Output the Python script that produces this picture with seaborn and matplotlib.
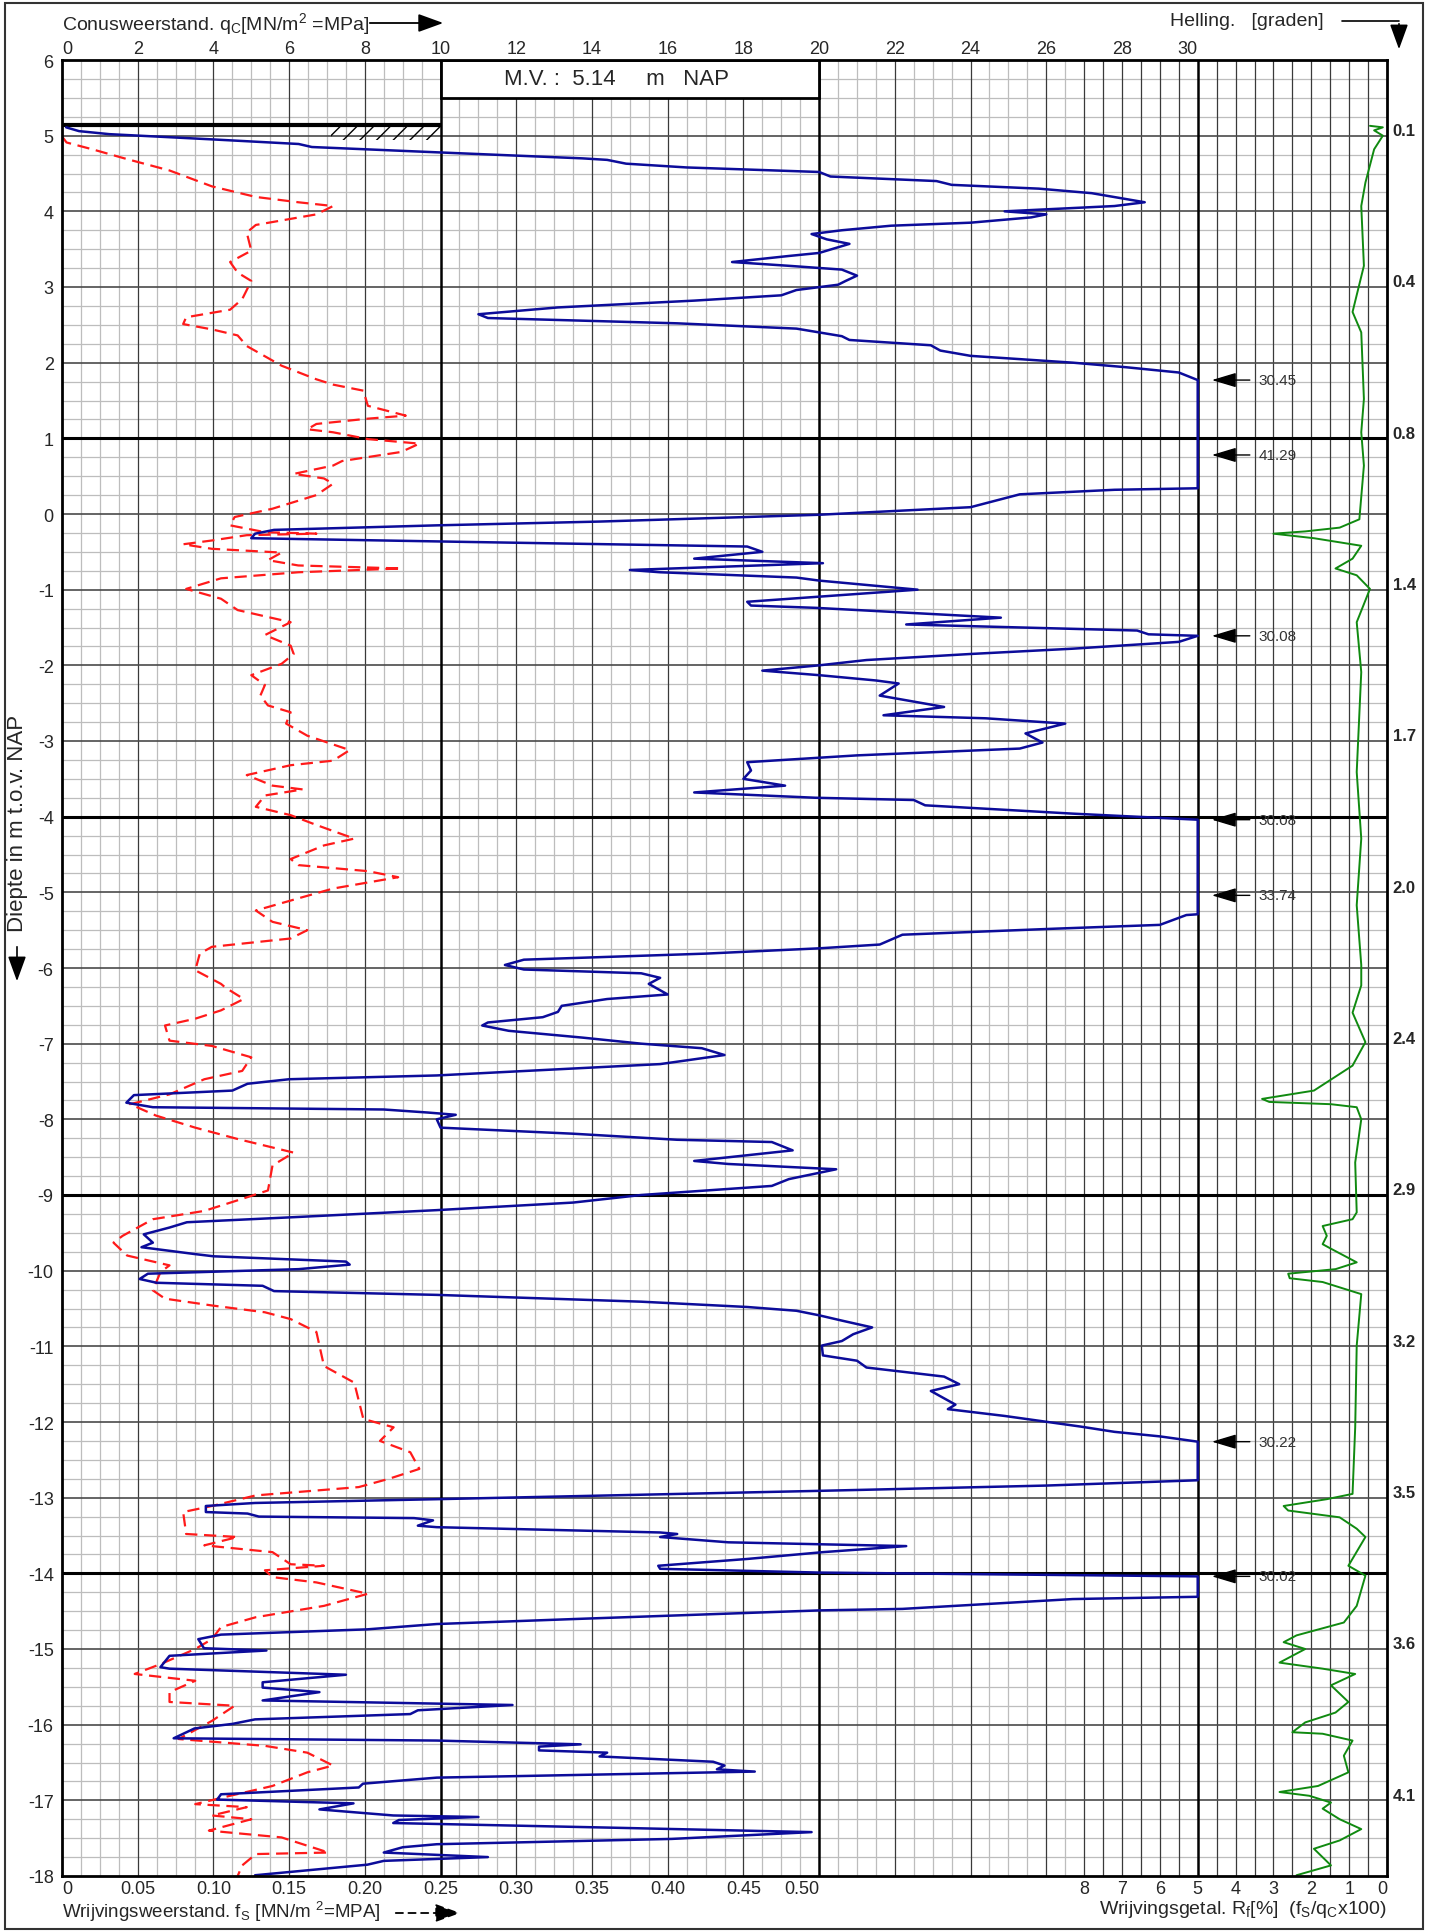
import numpy as np
import pandas as pd
import matplotlib
matplotlib.use("Agg")
import matplotlib.pyplot as plt
import seaborn as sns
from matplotlib.patches import Rectangle, FancyArrowPatch
from matplotlib.lines import Line2D

# style
sns.set_theme(style="white")
plt.rcParams["font.family"] = ["Liberation Sans", "DejaVu Sans"]
plt.rcParams["mathtext.fontset"] = "custom"
plt.rcParams["mathtext.rm"] = "Liberation Sans"
plt.rcParams["mathtext.it"] = "Liberation Sans:italic"
plt.rcParams["axes.unicode_minus"] = False

# cone resistance qc [MPa] against depth [m NAP]
qc_depth = [5.11, 5.06, 5.02, 4.95, 4.89, 4.85, 4.78, 4.70, 4.68, 4.63, 4.58, 4.52, 4.46, 4.40, 4.35,
            4.30, 4.24, 4.12, 4.07, 4.00, 3.96, 3.92, 3.85, 3.81, 3.75, 3.70, 3.63, 3.57, 3.45, 3.41,
            3.33, 3.28, 3.23, 3.15, 3.08, 3.03, 2.96, 2.89, 2.82, 2.73, 2.64, 2.59, 2.52, 2.45, 2.35,
            2.30, 2.23, 2.16, 2.09, 2.00, 1.94, 1.87, 1.83, 1.77, 0.78, 0.34, 0.32, 0.26, 0.09, -0.01,
            -0.10, -0.15, -0.21, -0.26, -0.32, -0.37, -0.43, -0.50, -0.59, -0.65, -0.74, -0.77, -0.84,
            -0.88, -1.00, -1.16, -1.21, -1.24, -1.37, -1.46, -1.54, -1.59, -1.61, -1.69, -1.78, -1.85,
            -1.93, -2.00, -2.07, -2.13, -2.20, -2.24, -2.40, -2.55, -2.66, -2.70, -2.77, -2.90, -3.02,
            -3.10, -3.19, -3.28, -3.39, -3.50, -3.59, -3.68, -3.75, -3.78, -3.85, -3.96, -4.04, -5.04,
            -5.29, -5.30, -5.43, -5.48, -5.56, -5.69, -5.74, -5.81, -5.89, -5.96, -6.02, -6.07, -6.13,
            -6.21, -6.35, -6.41, -6.50, -6.58, -6.65, -6.72, -6.76, -6.83, -6.92, -7.00, -7.06, -7.15,
            -7.27, -7.38, -7.42, -7.47, -7.53, -7.62, -7.68, -7.78, -7.84, -7.87, -7.91, -7.94, -8.00,
            -8.11, -8.19, -8.27, -8.30, -8.41, -8.55, -8.59, -8.66, -8.79, -8.88, -9.00, -9.10, -9.20,
            -9.29, -9.36, -9.43, -9.52, -9.63, -9.69, -9.78, -9.81, -9.88, -9.92, -9.98, -10.04, -10.11,
            -10.16, -10.20, -10.27, -10.32, -10.41, -10.48, -10.53, -10.59, -10.66, -10.75, -10.84,
            -10.93, -10.99, -11.12, -11.19, -11.28, -11.40, -11.50, -11.59, -11.77, -11.83, -11.92,
            -12.06, -12.13, -12.19, -12.26, -12.77, -12.84, -12.91, -13.02, -13.07, -13.11, -13.19,
            -13.21, -13.25, -13.27, -13.30, -13.37, -13.39, -13.46, -13.48, -13.52, -13.59, -13.64,
            -13.72, -13.81, -13.90, -13.94, -13.99, -14.04, -14.31, -14.34, -14.47, -14.49, -14.60,
            -14.67, -14.74, -14.81, -14.87, -14.99, -15.02, -15.09, -15.24, -15.26, -15.34, -15.44,
            -15.51, -15.57, -15.68, -15.74, -15.81, -15.86, -15.93, -15.99, -16.05, -16.18, -16.21,
            -16.26, -16.29, -16.34, -16.37, -16.42, -16.49, -16.54, -16.59, -16.62, -16.70, -16.78,
            -16.83, -16.92, -16.99, -17.04, -17.12, -17.20, -17.22, -17.26, -17.30, -17.36, -17.42,
            -17.51, -17.58, -17.62, -17.69, -17.75, -17.80, -17.85, -17.99]
qc_value = [0.11, 0.45, 1.25, 4.0, 6.25, 6.6, 9.9, 13.75, 14.4, 14.9, 16.5, 20.0, 20.3, 23.1, 23.5,
            25.8, 27.2, 28.6, 27.8, 24.9, 26.0, 25.6, 24.0, 21.9, 20.6, 19.8, 20.2, 20.8, 20.0, 19.2,
            17.7, 19.2, 20.6, 21.0, 20.7, 20.5, 19.4, 19.0, 16.7, 13.1, 11.0, 11.25, 16.25, 19.4, 20.6,
            20.8, 22.95, 23.2, 24.0, 26.7, 28.1, 29.5, 29.7, 30.45, 41.29, 30.0, 27.8, 25.3, 24.0, 20.0,
            14.2, 9.9, 5.6, 5.1, 5.0, 10.8, 18.1, 18.5, 16.7, 20.1, 15.0, 15.8, 19.4,
            20.0, 22.6, 18.1, 18.2, 19.9, 24.8, 22.3, 28.4, 28.7, 30.08, 29.5, 26.7, 24.0,
            21.25, 20.0, 18.5, 20.0, 21.5, 22.1, 21.6, 23.3, 21.7, 24.4, 26.5, 25.45, 25.9,
            25.3, 21.0, 18.1, 18.2, 18.0, 19.1, 16.7, 19.9, 22.5, 22.8, 26.7, 30.08, 33.74,
            30.0, 29.7, 29.0, 26.25, 22.2, 21.6, 20.0, 17.0, 12.2, 11.7, 12.2, 15.3, 15.8,
            15.5, 16.0, 14.4, 13.2, 13.1, 12.7, 11.25, 11.1, 11.8, 13.75, 15.3, 16.9, 17.5,
            15.8, 11.5, 9.9, 6.0, 4.9, 4.5, 1.9, 1.7, 2.4, 8.5, 9.66, 10.4, 9.9,
            10.0, 13.5, 16.25, 18.75, 19.3, 16.7, 17.6, 20.45, 19.2, 18.75, 15.3, 13.5, 9.9,
            6.25, 3.3, 2.84, 2.16, 2.4, 2.1, 3.5, 4.0, 7.5, 7.6, 6.25, 2.27, 2.05,
            2.5, 5.3, 5.6, 9.9, 15.3, 18.1, 19.4, 20.0, 20.6, 21.4, 20.9,
            20.6, 20.07, 20.1, 21.0, 21.25, 23.3, 23.7, 22.95, 23.6, 23.4, 24.9,
            26.9, 27.8, 29.0, 30.22, 30.0, 26.0, 20.0, 9.9, 5.1, 3.8, 3.8,
            4.9, 5.2, 9.3, 9.8, 9.4, 9.9, 15.8, 16.25, 15.8, 17.6, 22.3,
            20.1, 18.1, 15.75, 15.8, 20.0, 30.02, 30.0, 26.7, 22.2, 20.0, 13.75,
            9.9, 8.07, 4.2, 3.6, 3.75, 5.4, 2.84, 2.6, 2.84, 7.5, 5.3,
            5.3, 6.8, 5.3, 11.9, 9.4, 9.2, 5.1, 4.5, 3.5, 2.95, 9.9,
            13.7, 12.6, 12.6, 14.4, 14.2, 17.2, 17.5, 17.3, 18.3, 9.9, 7.95,
            7.84, 4.2, 4.1, 7.7, 6.8, 8.75, 11.0, 8.9, 8.75, 14.4, 19.8,
            16.1, 9.9, 9.0, 8.5, 11.25, 8.5, 8.07, 5.1]

# sleeve friction fs [MPa]
fs_depth = [4.99, 4.91, 4.82, 4.69, 4.54, 4.33, 4.19, 4.12, 4.07, 3.96, 3.82, 3.72, 3.48, 3.33, 3.19,
            3.08, 2.84, 2.70, 2.60, 2.51, 2.44, 2.36, 2.22, 1.96, 1.78, 1.71, 1.63, 1.43, 1.30, 1.26,
            1.19, 1.12, 1.08, 0.99, 0.93, 0.82, 0.70, 0.64, 0.53, 0.47, 0.40, 0.25, 0.07, -0.04, -0.15,
            -0.24, -0.26, -0.28, -0.35, -0.40, -0.46, -0.51, -0.61, -0.68, -0.72, -0.77, -0.85, -0.99,
            -1.12, -1.27, -1.43, -1.60, -1.74, -1.85, -1.98, -2.13, -2.26, -2.40, -2.53, -2.62, -2.77,
            -2.93, -3.12, -3.26, -3.32, -3.45, -3.59, -3.64, -3.72, -3.87, -3.98, -4.11, -4.29, -4.38,
            -4.56, -4.64, -4.72, -4.80, -4.95, -5.08, -5.24, -5.39, -5.50, -5.61, -5.72, -5.81, -6.03,
            -6.21, -6.26, -6.41, -6.56, -6.67, -6.76, -6.96, -7.03, -7.18, -7.36, -7.47, -7.67, -7.80,
            -7.95, -8.11, -8.26, -8.44, -8.61, -8.94, -9.07, -9.21, -9.32, -9.54, -9.63, -9.80, -9.93,
            -10.02, -10.26, -10.37, -10.46, -10.55, -10.64, -10.81, -10.99, -11.26, -11.48, -11.72,
            -11.96, -12.07, -12.25, -12.40, -12.62, -12.75, -12.86, -12.97, -13.11, -13.19, -13.48,
            -13.52, -13.63, -13.72, -13.88, -13.90, -13.96, -14.05, -14.12, -14.27, -14.43, -14.58,
            -14.71, -14.87, -15.00, -15.20, -15.33, -15.42, -15.57, -15.70, -15.75, -15.95, -16.19,
            -16.28, -16.37, -16.54, -16.63, -16.81, -16.94, -17.05, -17.09, -17.20, -17.25, -17.40,
            -17.49, -17.69, -17.71, -17.86, -18.00]
fs_value = [0.0, 0.003, 0.020, 0.043, 0.071, 0.099, 0.128, 0.156, 0.179, 0.168, 0.128, 0.122, 0.125, 0.111, 0.116,
            0.125, 0.119, 0.111, 0.082, 0.080, 0.099, 0.116, 0.122, 0.145, 0.168, 0.179, 0.199, 0.202, 0.227, 0.202,
            0.168, 0.162, 0.179, 0.202, 0.236, 0.224, 0.185, 0.179, 0.153, 0.173, 0.179, 0.168, 0.139, 0.114, 0.111,
            0.134, 0.168, 0.122, 0.099, 0.080, 0.099, 0.145, 0.136, 0.156, 0.224, 0.156, 0.105, 0.082,
            0.105, 0.116, 0.151, 0.134, 0.151, 0.153, 0.145, 0.125, 0.134, 0.131, 0.136, 0.151, 0.148,
            0.162, 0.190, 0.179, 0.151, 0.122, 0.139, 0.159, 0.134, 0.128, 0.151, 0.168, 0.193, 0.173,
            0.151, 0.156, 0.202, 0.222, 0.179, 0.156, 0.128, 0.139, 0.162, 0.151, 0.099, 0.091, 0.088,
            0.105, 0.108, 0.120, 0.105, 0.088, 0.068, 0.071, 0.099, 0.125, 0.119, 0.094, 0.071, 0.045,
            0.062, 0.088, 0.116, 0.153, 0.139, 0.136, 0.116, 0.094, 0.060, 0.040, 0.034, 0.043, 0.071,
            0.065, 0.060, 0.068, 0.099, 0.134, 0.151, 0.168, 0.170, 0.173, 0.193, 0.196,
            0.199, 0.219, 0.210, 0.230, 0.236, 0.216, 0.196, 0.128, 0.099, 0.080, 0.082,
            0.116, 0.094, 0.139, 0.151, 0.173, 0.134, 0.139, 0.168, 0.202, 0.173, 0.128,
            0.105, 0.099, 0.088, 0.065, 0.048, 0.088, 0.071, 0.071, 0.114, 0.099, 0.077,
            0.134, 0.162, 0.179, 0.162, 0.139, 0.111, 0.088, 0.122, 0.099, 0.125, 0.097,
            0.145, 0.176, 0.128, 0.119, 0.116]

# friction ratio Rf [%]
rf_depth = [5.13, 5.11, 5.07, 5.00, 4.82, 4.38, 4.07, 3.28, 2.67, 2.40, 1.52, 1.08, 0.64, -0.07, -0.18,
            -0.23, -0.26, -0.32, -0.42, -0.59, -0.72, -0.81, -0.99, -1.43, -2.09, -3.41, -4.29, -5.17,
            -5.96, -6.23, -6.59, -6.98, -7.29, -7.51, -7.62, -7.73, -7.77, -7.80, -7.84, -8.00, -8.57,
            -9.23, -9.32, -9.41, -9.54, -9.65, -9.71, -9.89, -9.98, -10.04, -10.10, -10.15, -10.31,
            -10.99, -12.07, -12.95, -13.02, -13.11, -13.17, -13.26, -13.41, -13.52, -13.90, -14.03,
            -14.43, -14.65, -14.82, -14.91, -15.00, -15.18, -15.26, -15.33, -15.48, -15.70, -15.84,
            -15.97, -16.10, -16.12, -16.21, -16.41, -16.63, -16.81, -16.89, -16.94, -17.03, -17.11,
            -17.25, -17.38, -17.53, -17.64, -17.86, -17.99]
rf_value = [0.45, 0.11, 0.34, 0.11, 0.34, 0.57, 0.68, 0.61, 0.91, 0.68, 0.61, 0.68, 0.61, 0.73, 1.25,
            2.16, 3.0, 1.93, 0.68, 0.91, 1.36, 0.80, 0.45, 0.80, 0.68, 0.80, 0.68, 0.80,
            0.68, 0.68, 0.91, 0.57, 0.91, 1.59, 1.93, 3.30, 3.11, 1.48, 0.80, 0.68, 0.84,
            0.80, 0.91, 1.70, 1.59, 1.70, 1.48, 0.80, 1.36, 2.61, 2.57, 1.70, 0.68,
            0.80, 0.84, 0.91, 1.59, 2.73, 2.61, 1.25, 0.80, 0.57, 1.02, 0.57,
            0.80, 1.14, 2.39, 2.73, 2.16, 2.84, 1.70, 0.84, 1.48, 1.02, 1.36,
            2.16, 2.50, 1.70, 0.91, 1.14, 1.02, 1.82, 2.84, 2.05, 1.48, 1.70,
            1.25, 0.68, 1.25, 1.93, 1.48, 2.39]

# qc values beyond the 30 MPa scale, written next to the frame
peak_depth = [1.77, 0.78, -1.61, -4.04, -5.04, -12.26, -14.04]
peak_value = [30.45, 41.29, 30.08, 30.08, 33.74, 30.22, 30.02]

# inclination (Helling) labels on the right
helling_depth = [5, 3, 1, -1, -3, -5, -7, -9, -11, -13, -15, -17]
helling_label = ["0.1", "0.4", "0.8", "1.4", "1.7", "2.0", "2.4", "2.9", "3.2", "3.5", "3.6", "4.1"]

# axis tick labels
qc_ticks = [0, 2, 4, 6, 8, 10, 12, 14, 16, 18, 20, 22, 24, 26, 28, 30]
fs_ticks = ["0", "0.05", "0.10", "0.15", "0.20", "0.25", "0.30", "0.35", "0.40", "0.45", "0.50"]
rf_ticks = ["8", "7", "6", "5", "4", "3", "2", "1", "0"]
depth_ticks = list(range(6, -19, -1))

ground_level = 5.14

W, H = 1430, 1933


def fx(x):
    return x / W


def fy(y):
    return 1 - y / H


fig = plt.figure(figsize=(W / 100, H / 100), dpi=100)
ax = fig.add_axes([fx(62), fy(1877), 1325 / W, 1816 / H])
ax.set_xlim(0, 35)
ax.set_ylim(-18, 6)

# background grid
light = "#bdbdbd"
for x in np.arange(0.5, 35, 0.5):
    if x in (10, 20, 30):
        ax.axvline(x, color="black", lw=1.8, zorder=1)
    elif x >= 27 or x % 2 == 0:
        ax.axvline(x, color="#3a3a3a", lw=0.9, zorder=0.8)
    else:
        ax.axvline(x, color=light, lw=0.9, zorder=0.5)
for y in np.arange(-17.75, 6, 0.25):
    if y in (1, -4, -9, -14):
        ax.axhline(y, color="black", lw=2.2, zorder=1)
    elif y % 1 == 0:
        ax.axhline(y, color="#4a4a4a", lw=1.2, zorder=0.9)
    else:
        ax.axhline(y, color=light, lw=0.9, zorder=0.5)

# ground level box and hatch
ax.add_patch(Rectangle((10, 5.5), 10, 0.5, facecolor="white", edgecolor="black", lw=2, zorder=3))
ax.text(14.65, 5.75, "M.V. :  5.14     m   NAP", ha="center", va="center", fontsize=16, zorder=4)
ax.plot([0, 10], [ground_level, ground_level], color="black", lw=3, zorder=3, solid_capstyle="butt")
ax.add_patch(Rectangle((7.1, 4.94), 2.9, 0.17, facecolor="none", edgecolor="black", lw=0,
                       hatch="//", zorder=2))

# curves
df_qc = pd.DataFrame({"depth": qc_depth, "qc": np.minimum(qc_value, 30)})
sns.lineplot(data=df_qc, x="qc", y="depth", sort=False, estimator=None, color="#0c0c9a", lw=1.8,
             ax=ax, zorder=5)

df_fs = pd.DataFrame({"depth": fs_depth, "x": np.array(fs_value) * 40})
sns.lineplot(data=df_fs, x="x", y="depth", sort=False, estimator=None, color="#ff1a1a", lw=1.6,
             ax=ax, zorder=4)
ax.lines[-1].set_dashes((5.5, 3))

df_rf = pd.DataFrame({"depth": rf_depth, "x": 35 - np.array(rf_value)})
sns.lineplot(data=df_rf, x="x", y="depth", sort=False, estimator=None, color="#108a10", lw=1.4,
             ax=ax, zorder=5)

# peak annotations
for d, v in zip(peak_depth, peak_value):
    ax.annotate("", xy=(30.3, d), xytext=(31.45, d),
                arrowprops=dict(arrowstyle="-|>,head_length=1.0,head_width=0.3", color="black",
                                lw=1, mutation_scale=15), zorder=6)
    ax.text(31.6, d, f"{v:.2f}", ha="left", va="center", fontsize=11, color="#333333", zorder=6)

# helling labels
for d, lab in zip(helling_depth, helling_label):
    ax.text(35.15, d + 0.07, lab, ha="left", va="center", fontsize=12, fontweight="bold",
            clip_on=False)

# ticks
ax.set_xlabel("")
ax.set_ylabel("")
ax.set_yticks(depth_ticks)
ax.set_yticklabels([str(t) for t in depth_ticks])
ax.tick_params(axis="y", length=0, pad=6, labelsize=13)

top = ax.secondary_xaxis("top")
top.set_xticks(qc_ticks)
top.set_xticklabels([str(t) for t in qc_ticks])
top.tick_params(length=0, pad=2, labelsize=13)
for lbl in top.get_xticklabels():
    if lbl.get_text() == "0":
        lbl.set_ha("left")
    elif lbl.get_text() == "30":
        lbl.set_ha("right")

bottom_pos = list(range(0, 22, 2)) + list(range(27, 36))
ax.set_xticks(bottom_pos)
ax.set_xticklabels(fs_ticks + rf_ticks)
ax.tick_params(axis="x", length=0, pad=3, labelsize=13)
labels = ax.get_xticklabels()
labels[0].set_ha("left")
labels[10].set_ha("right")
labels[-1].set_ha("right")

for s in ax.spines.values():
    s.set_color("black")
    s.set_linewidth(2)
    s.set_zorder(7)
top.spines["top"].set_visible(False)

# titles and arrows around the frame
arrow_kw = dict(transform=fig.transFigure, color="black",
                arrowstyle="-|>,head_length=1.1,head_width=0.4", mutation_scale=14)
fig.text(fx(62), fy(24), r"Conusweerstand. q$_{\mathrm{C}}$[MN/m$^{2}$ =MPa]", ha="left",
         va="center", fontsize=14)
fig.add_artist(FancyArrowPatch((fx(367), fy(24)), (fx(446), fy(24)), lw=1.3, **arrow_kw))
fig.text(fx(1170), fy(22), "Helling.   [graden]", ha="left", va="center", fontsize=14)
fig.add_artist(Line2D([fx(1342), fx(1399)], [fy(22), fy(22)], transform=fig.transFigure,
                      color="black", lw=1.2))
fig.add_artist(FancyArrowPatch((fx(1399), fy(22)), (fx(1399), fy(53)), lw=1.2, **arrow_kw))

fig.text(fx(62), fy(1912), r"Wrijvingsweerstand. f$_{\mathrm{S}}$ [MN/m $^{2}$=MPA]", ha="left",
         va="center", fontsize=13.5)
fig.add_artist(FancyArrowPatch((fx(393), fy(1914)), (fx(463), fy(1914)), lw=1.3,
                               linestyle=(0, (4, 3)), **arrow_kw))
fig.text(fx(1387), fy(1910),
         r"Wrijvingsgetal. R$_{\mathrm{f}}$[%]  (f$_{\mathrm{S}}$/q$_{\mathrm{C}}$x100)",
         ha="right", va="center", fontsize=14)

fig.text(fx(18), fy(823), "Diepte in m t.o.v. NAP", rotation=90, ha="center", va="center",
         fontsize=16)
fig.add_artist(FancyArrowPatch((fx(17), fy(945)), (fx(17), fy(985)), lw=1.2, **arrow_kw))

# outer frame
fig.add_artist(Rectangle((fx(5), fy(1930)), 1418 / W, 1926 / H, transform=fig.transFigure,
                         fill=False, edgecolor="#333333", lw=1.5))

fig.savefig("out.png", dpi=100)
